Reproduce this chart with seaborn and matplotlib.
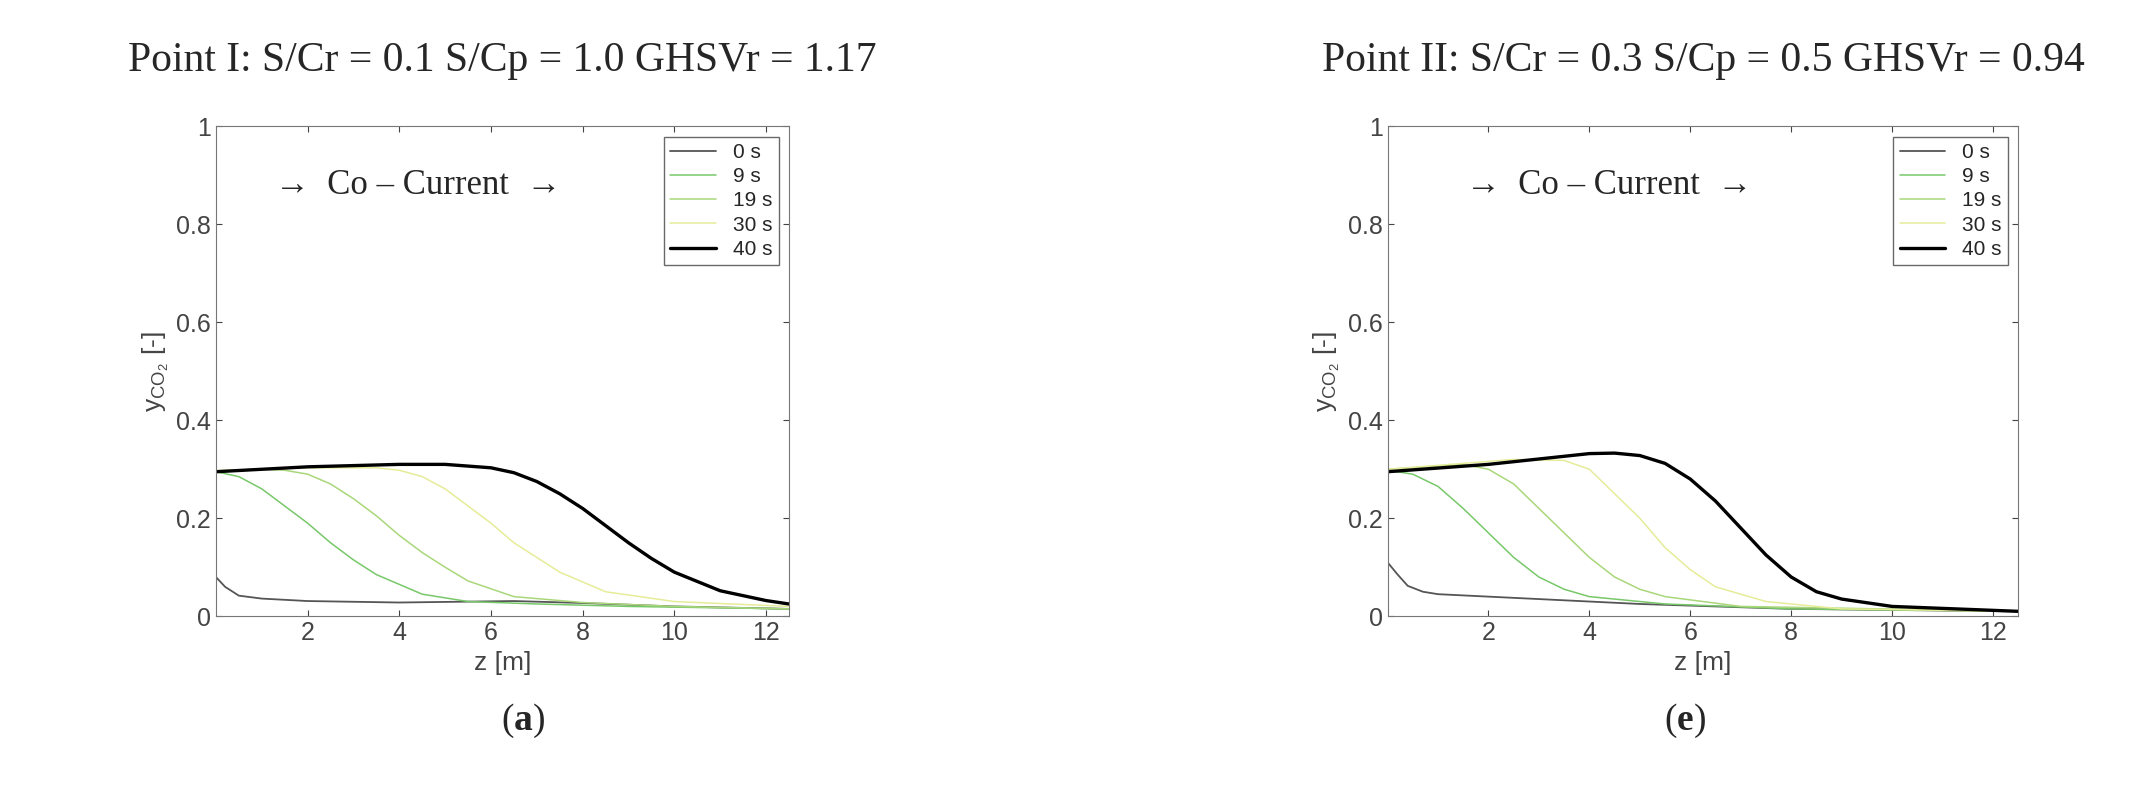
import matplotlib
matplotlib.use("Agg")
import matplotlib.pyplot as plt
import seaborn as sns
import pandas as pd

sns.set_style("white")
plt.rcParams['font.family'] = ['Liberation Sans', 'DejaVu Sans']
plt.rcParams['mathtext.fontset'] = 'custom'
plt.rcParams['mathtext.bf'] = 'Liberation Serif:bold'
plt.rcParams['mathtext.rm'] = 'Liberation Serif'
plt.rcParams['mathtext.sf'] = 'Liberation Sans'

labels = ["0 s", "9 s", "19 s", "30 s", "40 s"]
colors = ["#555555", "#78c86a", "#a9d77a", "#e6ec98", "#000000"]
widths = [1.3, 1.1, 1.1, 1.1, 2.4]

# panel (a): z [m], y_CO2 [-]
a_z = {
    "0 s":  [0, 0.2, 0.5, 1, 2, 4, 6.5, 8, 10, 12.5],
    "9 s":  [0, 0.5, 1, 1.5, 2, 2.5, 3, 3.5, 4.5, 5.5, 7, 9, 12.5],
    "19 s": [0, 1, 1.5, 2, 2.5, 3, 3.5, 4, 4.5, 5, 5.5, 6.5, 8, 10, 12.5],
    "30 s": [0, 2, 3.5, 4, 4.5, 5, 5.5, 6, 6.5, 7, 7.5, 8.5, 10, 12.5],
    "40 s": [0, 2, 4, 5, 6, 6.5, 7, 7.5, 8, 8.5, 9, 9.5, 10, 11, 12, 12.5],
}
a_y = {
    "0 s":  [0.08, 0.06, 0.042, 0.036, 0.031, 0.028, 0.031, 0.027, 0.02, 0.015],
    "9 s":  [0.295, 0.285, 0.26, 0.225, 0.19, 0.15, 0.115, 0.085, 0.045, 0.03, 0.025, 0.02, 0.015],
    "19 s": [0.297, 0.3, 0.298, 0.29, 0.27, 0.24, 0.205, 0.165, 0.13, 0.1, 0.072, 0.04, 0.028, 0.02, 0.015],
    "30 s": [0.297, 0.303, 0.303, 0.298, 0.285, 0.26, 0.225, 0.19, 0.15, 0.12, 0.09, 0.05, 0.03, 0.02],
    "40 s": [0.295, 0.305, 0.31, 0.31, 0.303, 0.293, 0.275, 0.25, 0.22, 0.185, 0.15, 0.118, 0.09, 0.052, 0.032, 0.025],
}

# panel (e)
e_z = {
    "0 s":  [0, 0.2, 0.4, 0.7, 1, 3, 5, 8, 12.5],
    "9 s":  [0, 0.5, 1, 1.5, 2, 2.5, 3, 3.5, 4, 5.5, 8, 12.5],
    "19 s": [0, 1.5, 2, 2.5, 3, 3.5, 4, 4.5, 5, 5.5, 7, 12.5],
    "30 s": [0, 2.5, 3.5, 4, 4.5, 5, 5.5, 6, 6.5, 7.5, 9, 12.5],
    "40 s": [0, 2, 4, 4.5, 5, 5.5, 6, 6.5, 7, 7.5, 8, 8.5, 9, 10, 12.5],
}
e_y = {
    "0 s":  [0.11, 0.085, 0.062, 0.05, 0.045, 0.035, 0.025, 0.015, 0.01],
    "9 s":  [0.298, 0.29, 0.265, 0.22, 0.17, 0.12, 0.08, 0.055, 0.04, 0.025, 0.015, 0.01],
    "19 s": [0.3, 0.31, 0.3, 0.27, 0.22, 0.17, 0.12, 0.08, 0.055, 0.04, 0.02, 0.01],
    "30 s": [0.3, 0.32, 0.318, 0.3, 0.25, 0.2, 0.14, 0.095, 0.06, 0.03, 0.015, 0.01],
    "40 s": [0.295, 0.31, 0.332, 0.333, 0.328, 0.312, 0.28, 0.235, 0.18, 0.125, 0.08, 0.05, 0.035, 0.02, 0.01],
}

titles = ["Point I: S/Cr = 0.1 S/Cp = 1.0 GHSVr = 1.17",
          "Point II: S/Cr = 0.3 S/Cp = 0.5 GHSVr = 0.94"]

fig = plt.figure(figsize=(21.38, 7.85), dpi=100)
axes = [fig.add_axes([0.101, 0.215, 0.268, 0.624]),
        fig.add_axes([0.649, 0.215, 0.295, 0.624])]
serif = ['Liberation Serif', 'DejaVu Serif']

for ax, zs, ys, title in zip(axes, [a_z, e_z], [a_y, e_y], titles):
    for lab, c, w in zip(labels, colors, widths):
        df = pd.DataFrame({"z": zs[lab], "y": ys[lab]})
        sns.lineplot(data=df, x="z", y="y", ax=ax, color=c, linewidth=w, label=lab)
    ax.set_xlim(0, 12.5)
    ax.set_ylim(0, 1)
    ax.set_xticks([2, 4, 6, 8, 10, 12])
    ax.set_yticks([0, 0.2, 0.4, 0.6, 0.8, 1])
    ax.set_yticklabels(["0", "0.2", "0.4", "0.6", "0.8", "1"])
    ax.tick_params(labelsize=18, colors="#444444", direction="in", length=4,
                   top=True, right=True, bottom=True, left=True)
    for s in ax.spines.values():
        s.set_color("#777777")
    ax.set_xlabel("z [m]", fontsize=19, color="#444444")
    ax.set_ylabel(r"y$_{\mathsf{CO_2}}$ [-]", fontsize=19, color="#444444")
    leg = ax.legend(loc="upper right", fontsize=15, frameon=True, fancybox=False,
                    handlelength=2.2, borderpad=0.3, labelspacing=0.25)
    leg.get_frame().set_edgecolor("#444444")
    ax.text(4.4, 0.88, "→  Co – Current  →", fontsize=25, family=serif,
            ha="center", va="center")
    ax.set_title(title, fontsize=30, family=serif, pad=40)

fig.text(0.2445, 0.07, r"($\mathbf{a}$)", fontsize=27, family=serif, ha="center")
fig.text(0.788, 0.07, r"($\mathbf{e}$)", fontsize=27, family=serif, ha="center")

fig.savefig("out.png", dpi=100)
